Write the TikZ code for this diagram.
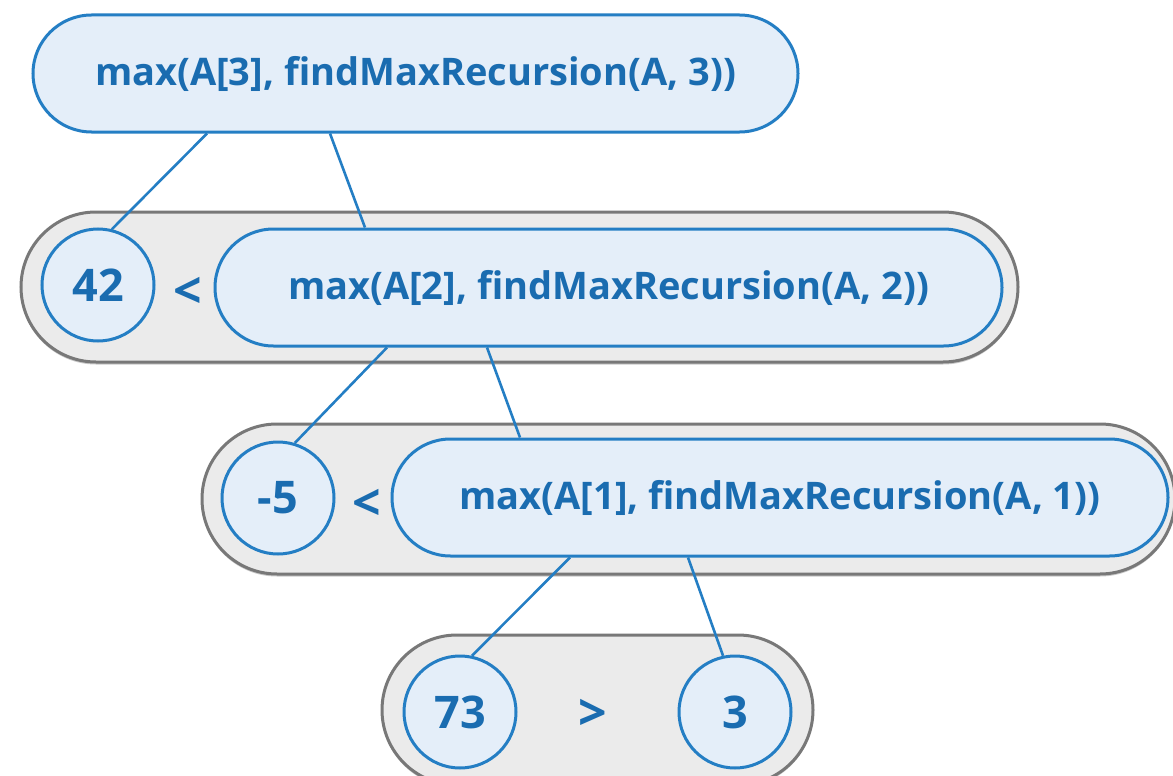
\documentclass[tikz,border=0pt]{standalone}
\usepackage{fontspec}
\setmainfont{Open Sans}
\usetikzlibrary{shadows}
\definecolor{bstroke}{RGB}{36,126,196}
\definecolor{btext}{RGB}{26,108,176}
\definecolor{bfill}{RGB}{228,238,249}
\definecolor{gfill}{RGB}{235,235,235}
\definecolor{gstroke}{RGB}{120,120,120}
\begin{document}
\begin{tikzpicture}[x=1pt,y=-1pt,
  container/.style={draw=gstroke, fill=gfill, line width=3pt, rounded corners=75pt, minimum height=150pt, inner sep=0pt, drop shadow={shadow xshift=0pt, shadow yshift=-2.5pt, opacity=0.35, fill=black!60}},
  call/.style={draw=bstroke, fill=bfill, line width=3pt, rounded corners=58.5pt, minimum height=117pt, inner sep=0pt, text=btext, font=\fontsize{38}{44}\selectfont\bfseries},
  val/.style={circle, draw=bstroke, fill=bfill, line width=3pt, minimum size=112pt, inner sep=0pt, text=btext, font=\fontsize{45}{52}\selectfont\bfseries},
  op/.style={text=btext, font=\fontsize{50}{56}\selectfont\bfseries, inner sep=0pt},
  link/.style={draw=bstroke, line width=2.6pt}]
\fill[white] (0,0) rectangle (1173,776);
\clip (0,0) rectangle (1173,776);
\node[container, minimum width=997pt] (G1) at (519.5,287) {};
\node[container, minimum width=973pt] (G2) at (688.5,499) {};
\node[container, minimum width=431pt] (G3) at (597.5,710) {};
\node[call, minimum width=765pt] (T) at (415.5,73.5) {\raisebox{-3pt}{max(A[3], findMaxRecursion(A, 3))}};
\node[call, minimum width=787pt] (N2) at (608.5,287.5) {\raisebox{-3pt}{max(A[2], findMaxRecursion(A, 2))}};
\node[call, minimum width=776pt] (N3) at (780,497.5) {\raisebox{-3pt}{max(A[1], findMaxRecursion(A, 1))}};
\node[val] (c42) at (98,285) {42};
\node[op] (lt1) at (188,293) {<};
\node[val] (c5) at (278,498) {-5};
\node[op] (lt2) at (367,505) {<};
\node[val] (c73) at (460,712) {73};
\node[op] (gt) at (593,715) {>};
\node[val] (c3) at (735,712) {3};
\draw[link] ([xshift=-208.5pt]T.south) -- (c42.76);
\draw[link] ([xshift=-85.5pt]T.south) -- ([xshift=-243.5pt]N2.north);
\draw[link] ([xshift=-221.5pt]N2.south) -- (c5.73);
\draw[link] ([xshift=-121.5pt]N2.south) -- ([xshift=-260pt]N3.north);
\draw[link] ([xshift=-210pt]N3.south) -- (c73.78);
\draw[link] ([xshift=-92pt]N3.south) -- (c3.102);
\end{tikzpicture}
\end{document}
